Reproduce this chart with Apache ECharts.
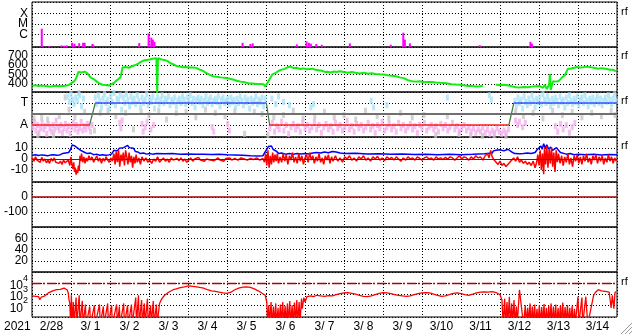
<!DOCTYPE html>
<html><head><meta charset="utf-8">
<script src="https://cdn.jsdelivr.net/npm/echarts@6/dist/echarts.min.js"></script>
<style>html,body{margin:0;padding:0;background:#fff}#c{width:633px;height:334px}</style>
</head><body><div id="c"></div>
<script>
// ---------- DATA (time = days since 2021-02-28 00:00 UT) ----------
const yearLabel = '2021';
const dayLabels = ['2/28','3/ 1','3/ 2','3/ 3','3/ 4','3/ 5','3/ 6','3/ 7','3/ 8','3/ 9','3/10','3/11','3/12','3/13','3/14'];

const xrayClassNames = ['C','M','X'];
const xrayClassFlux = [1e-6, 1e-5, 1e-4];
// [day, peak X-ray flux W/m2]
const xrayFlares = [[0.25,3.7e-6],[0.45,8.5e-8],[0.76,9.6e-8],[0.83,9e-8],[0.89,9.6e-8],[1.03,1.7e-7],[1.09,1.4e-7],[1.21,1.55e-7],[1.31,1.7e-7],[1.35,1.7e-7],[1.55,1.3e-7],[1.57,1.1e-7],[2.75,1.6e-7],[2.99,1.35e-6],[3.06,5.2e-7],[3.10,3.4e-7],[3.14,2.1e-7],[5.40,1.7e-7],[5.60,1.3e-7],[5.66,1.5e-7],[6.79,1.2e-7],[7.04,2.3e-7],[7.10,1.7e-7],[7.15,1.4e-7],[7.29,1.3e-7],[7.43,1.1e-7],[8.15,1.5e-7],[9.20,1.1e-7],[9.52,1.55e-6],[9.56,3.4e-7],[9.69,1.5e-7],[11.48,1e-7],[12.78,2.1e-7],[12.82,1.4e-7]];

const speedTicks = [400,500,600,700];
// [day, km/s]
const windSpeed = [[0.01,382],[0.09,386],[0.17,378],[0.24,384],[0.32,380],[0.40,376],[0.47,372],[0.55,378],[0.63,381],[0.71,376],[0.78,379],[0.86,382],[0.94,388],[1.01,410],[1.09,430],[1.14,470],[1.19,528],[1.27,522],[1.35,531],[1.42,512],[1.50,470],[1.58,452],[1.66,425],[1.73,405],[1.81,392],[1.89,388],[1.96,384],[2.04,398],[2.12,418],[2.19,445],[2.27,470],[2.32,574],[2.40,580],[2.48,572],[2.55,585],[2.63,598],[2.71,612],[2.78,632],[2.86,648],[2.94,655],[3.02,660],[3.09,668],[3.14,680],[3.19,672],[3.21,300],[3.23,672],[3.25,665],[3.32,660],[3.40,655],[3.48,642],[3.55,620],[3.63,608],[3.71,590],[3.79,584],[3.86,578],[3.94,580],[4.04,575],[4.14,574],[4.22,568],[4.30,552],[4.38,540],[4.45,520],[4.55,500],[4.63,482],[4.73,476],[4.84,470],[4.94,466],[5.04,458],[5.15,448],[5.25,435],[5.35,425],[5.45,418],[5.56,405],[5.66,404],[5.76,400],[5.86,401],[5.94,398],[5.97,375],[6.02,398],[6.09,450],[6.17,505],[6.25,518],[6.33,540],[6.40,552],[6.48,560],[6.56,578],[6.63,585],[6.71,568],[6.79,572],[6.86,560],[6.97,565],[7.04,555],[7.12,560],[7.20,562],[7.27,550],[7.35,545],[7.43,540],[7.51,528],[7.58,530],[7.66,522],[7.74,532],[7.81,528],[7.89,535],[8.00,527],[8.10,520],[8.20,526],[8.30,518],[8.40,512],[8.51,520],[8.61,508],[8.71,514],[8.81,506],[8.92,502],[9.02,500],[9.12,492],[9.22,486],[9.33,482],[9.43,470],[9.53,462],[9.64,440],[9.74,430],[9.84,425],[9.94,428],[10.05,418],[10.15,422],[10.25,420],[10.35,415],[10.46,412],[10.56,410],[10.66,405],[10.76,398],[10.87,394],[10.97,392],[11.07,386],[11.18,378],[11.28,380],[11.38,374],[11.48,376],[11.56,382],[11.70,null],[11.89,392],[11.99,388],[12.10,392],[12.20,386],[12.30,375],[12.41,366],[12.51,364],[12.61,368],[12.72,365],[12.82,372],[12.92,375],[13.02,378],[13.10,360],[13.15,390],[13.20,345],[13.26,395],[13.28,506],[13.30,336],[13.36,430],[13.43,425],[13.51,432],[13.59,470],[13.66,490],[13.74,560],[13.82,565],[13.90,572],[13.97,580],[14.05,575],[14.13,578],[14.20,584],[14.28,580],[14.36,576],[14.43,570],[14.51,562],[14.59,568],[14.66,565],[14.74,558],[14.82,550],[14.89,552],[14.97,535]];

const sectorNames = ['A','T'];
const sectorLevels = [-1, 1];
const sectorAway = [[0,-1],[1.476,-1],[6.0,null],[6.094,-1],[12.227,-1]];
const sectorToward = [[1.622,1],[6.01,1],[6.05,null],[12.355,1],[15,1]];
const sectorChange = [[1.476,-1],[1.622,1],[3,null],[6.01,1],[6.094,-1],[9,null],[12.227,-1],[12.355,1]];

const phiToward = [[0.92,1.6],[0.96,1.1],[1.0,1.8],[1.04,1.3],[1.08,0.9],[1.12,1.5],[1.17,1.2],[1.22,1.7],[1.27,0.7],[1.32,1.4],[1.62,1.5],[1.66,0.9],[1.70,1.7],[1.74,1.2],[1.78,0.6],[1.82,1.4],[1.86,1.8],[1.90,1.0],[1.94,1.3],[1.98,0.5],[2.02,1.6],[2.06,1.1],[2.10,1.9],[2.14,0.8],[2.18,1.4],[2.22,1.2],[2.26,1.7],[2.30,0.4],[2.34,1.5],[2.38,1.0],[2.42,1.8],[2.46,1.3],[2.50,0.7],[2.54,1.6],[2.58,1.1],[2.62,1.4],[2.66,0.9],[2.70,1.7],[2.74,1.2],[2.78,0.6],[2.82,1.5],[2.86,1.0],[2.90,1.3],[2.94,1.8],[2.98,0.8],[3.02,1.4],[3.06,1.1],[3.10,1.6],[3.14,0.5],[3.18,1.2],[3.22,1.5],[3.26,0.9],[3.30,1.3],[3.34,1.7],[3.38,1.0],[3.42,1.4],[3.46,1.2],[3.50,1.6],[3.54,0.8],[3.58,1.3],[3.62,1.1],[3.66,1.5],[3.70,0.7],[3.74,1.2],[3.78,1.4],[3.82,1.0],[3.86,1.6],[3.90,1.3],[3.94,0.9],[3.98,1.5],[4.02,1.2],[4.06,1.7],[4.10,1.0],[4.14,1.4],[4.18,0.6],[4.22,1.3],[4.26,1.5],[4.30,1.1],[4.34,1.4],[4.38,0.8],[4.42,1.2],[4.46,1.6],[4.50,1.0],[4.54,1.3],[4.58,1.5],[4.62,0.9],[4.66,1.2],[4.70,1.4],[4.74,1.1],[4.78,1.6],[4.82,0.7],[4.86,1.3],[4.90,1.5],[4.94,1.0],[4.98,1.2],[5.02,1.4],[5.06,0.9],[5.10,1.5],[5.14,1.1],[5.18,1.3],[5.22,0.6],[5.26,1.4],[5.30,1.0],[5.34,1.6],[5.38,1.2],[5.42,0.8],[5.46,1.5],[5.50,1.1],[5.54,1.3],[5.58,0.5],[5.62,1.4],[5.66,1.0],[5.70,1.2],[5.74,1.6],[5.78,0.9],[5.82,1.3],[5.86,1.1],[5.90,1.5],[5.94,0.7],[5.98,1.4],[6.15,1.4],[6.25,0.9],[6.32,1.6],[6.45,1.1],[6.60,0.8],[7.15,0.6],[7.22,0.9],[8.70,1.2],[8.76,0.6],[9.10,0.8],[10.65,1.5],[11.73,1.7],[11.78,1.3],[12.38,1.2],[12.42,0.7],[12.46,1.5],[12.50,1.0],[12.54,1.3],[12.58,0.5],[12.62,1.6],[12.66,1.1],[12.70,0.8],[12.74,1.4],[12.78,1.0],[12.82,1.7],[12.86,1.2],[12.90,0.6],[12.94,1.4],[12.98,1.1],[13.02,1.5],[13.06,0.9],[13.10,1.8],[13.14,1.3],[13.18,1.0],[13.22,1.6],[13.26,1.2],[13.30,0.7],[13.34,1.4],[13.38,1.0],[13.42,1.5],[13.46,1.2],[13.50,0.8],[13.54,1.6],[13.58,1.1],[13.62,1.3],[13.66,0.6],[13.70,1.5],[13.74,1.0],[13.78,1.7],[13.82,1.2],[13.86,0.9],[13.90,1.4],[13.94,1.1],[13.98,1.6],[14.02,0.8],[14.06,1.3],[14.10,1.5],[14.14,1.0],[14.18,1.7],[14.22,1.2],[14.26,0.7],[14.30,1.4],[14.34,1.1],[14.38,1.5],[14.42,0.9],[14.46,1.3],[14.50,1.6],[14.54,1.0],[14.58,1.4],[14.62,0.8],[14.66,1.2],[14.70,1.5],[14.74,1.1],[14.78,1.7],[14.82,1.3],[14.86,0.9],[14.90,1.4],[14.94,1.8],[14.98,1.2]];
const phiAway = [[0.02,-1.2],[0.06,-0.7],[0.10,-1.5],[0.14,-1.0],[0.18,-1.7],[0.22,-1.3],[0.26,-0.8],[0.30,-1.4],[0.34,-1.1],[0.38,-1.8],[0.42,-0.9],[0.46,-1.3],[0.50,-1.6],[0.54,-1.0],[0.58,-1.4],[0.62,-0.6],[0.66,-1.2],[0.70,-1.5],[0.74,-1.0],[0.78,-1.7],[0.82,-1.3],[0.86,-0.9],[0.90,-1.5],[0.94,-1.1],[0.98,-1.8],[1.02,-1.2],[1.06,-0.8],[1.10,-1.4],[1.14,-1.0],[1.18,-1.6],[1.22,-1.3],[1.26,-0.7],[1.30,-1.5],[1.34,-1.1],[1.38,-1.4],[1.42,-0.9],[1.46,-1.2],[1.50,-1.6],[1.54,-1.0],[2.25,-0.8],[2.28,-1.3],[2.31,-0.6],[2.82,-0.9],[2.85,-1.6],[2.90,-1.2],[2.95,-0.7],[3.05,-1.4],[3.12,-1.0],[4.62,-1.2],[4.66,-1.6],[5.02,-0.9],[5.06,-1.5],[6.10,-1.3],[6.16,-0.8],[6.22,-1.6],[6.28,-1.1],[6.34,-1.4],[6.40,-0.7],[6.46,-1.5],[6.52,-1.0],[6.58,-1.8],[6.64,-1.2],[6.70,-0.9],[6.76,-1.4],[6.82,-1.1],[6.88,-1.6],[6.94,-0.8],[7.00,-1.3],[7.06,-1.0],[7.12,-1.5],[7.18,-1.2],[7.24,-0.7],[7.30,-1.4],[7.36,-1.0],[7.42,-1.7],[7.48,-1.2],[7.54,-0.9],[7.60,-1.4],[7.66,-1.1],[7.72,-1.6],[7.78,-0.8],[7.84,-1.3],[7.90,-1.0],[7.96,-1.5],[8.02,-1.2],[8.08,-0.6],[8.14,-1.4],[8.20,-1.1],[8.26,-1.6],[8.32,-0.9],[8.38,-1.3],[8.44,-1.0],[8.50,-1.5],[8.56,-1.2],[8.62,-0.8],[8.68,-1.4],[8.74,-1.1],[8.80,-1.7],[8.86,-1.0],[8.92,-1.3],[8.98,-0.7],[9.04,-1.5],[9.10,-1.2],[9.16,-0.9],[9.22,-1.4],[9.28,-1.1],[9.34,-1.6],[9.40,-0.8],[9.46,-1.3],[9.52,-1.0],[9.58,-1.5],[9.64,-1.2],[9.70,-0.9],[9.76,-1.4],[9.82,-1.1],[9.88,-1.7],[9.94,-1.0],[10.00,-1.3],[10.06,-0.8],[10.12,-1.5],[10.18,-1.2],[10.24,-1.0],[10.30,-1.4],[10.36,-1.1],[10.42,-1.6],[10.48,-0.9],[10.54,-1.3],[10.60,-1.0],[10.66,-1.5],[10.72,-1.2],[10.78,-0.8],[10.84,-1.4],[10.90,-1.1],[10.96,-1.6],[11.02,-1.3],[11.08,-1.0],[11.14,-1.5],[11.20,-1.2],[11.26,-1.6],[11.32,-1.3],[11.38,-1.7],[11.44,-1.4],[11.50,-1.6],[11.56,-1.2],[11.62,-1.7],[11.68,-1.4],[11.74,-1.8],[11.80,-1.5],[11.86,-1.7],[11.92,-1.3],[11.98,-1.6],[12.04,-1.8],[12.10,-1.5],[12.16,-1.7],[12.22,-1.4],[12.40,-0.6],[12.45,-1.0],[12.50,-0.7],[12.58,-1.2],[12.65,-0.8],[13.42,-1.1],[13.48,-1.6],[13.55,-0.9],[13.62,-1.4],[13.70,-1.0],[13.78,-1.7],[13.85,-1.2],[13.92,-0.8]];
const phiOther = [[0.05,-0.4],[0.15,-1.9],[0.25,-0.3],[0.40,-0.5],[0.55,-1.9],[0.70,-0.2],[0.85,1.5],[0.95,0.4],[1.10,-0.3],[1.20,1.9],[1.35,0.2],[1.60,-1.5],[1.75,0.1],[1.95,0.3],[2.15,-0.2],[2.40,0.1],[2.60,-1.4],[2.80,0.2],[3.00,-0.1],[3.25,0.3],[3.45,-0.5],[3.70,0.1],[3.95,0.2],[4.20,-0.3],[4.45,0.4],[4.70,0.1],[4.95,-0.2],[5.20,0.3],[5.45,-1.8],[5.70,0.2],[5.90,0.0],[6.05,-1.9],[6.20,-0.3],[6.45,-0.1],[6.70,0.3],[6.95,-0.4],[7.25,-0.2],[7.50,0.2],[7.75,-0.3],[8.00,-0.1],[8.30,-0.5],[8.55,0.3],[8.85,-0.2],[9.15,-0.4],[9.45,0.1],[9.75,-0.3],[10.05,-0.1],[10.35,-1.9],[10.65,-0.2],[10.95,-1.8],[11.25,-1.9],[11.55,-2.0],[11.85,-1.9],[12.15,-2.0],[12.40,0.2],[12.60,-0.2],[12.85,0.1],[13.10,-0.4],[13.35,0.3],[13.60,-0.1],[13.85,0.2],[14.10,-0.3],[14.35,0.1],[14.60,-0.2],[14.85,0.3],[14.95,-0.1]];

const bTicks = [-10, 0, 10];
// [day, nT]
const btTotal = [[0.01,3.5],[0.09,4],[0.17,3.2],[0.24,3.8],[0.32,3.5],[0.40,3],[0.47,3.6],[0.55,4],[0.63,3.4],[0.71,3.8],[0.78,5],[0.86,5.5],[0.94,6],[0.99,9],[1.03,13],[1.07,14.5],[1.10,12],[1.14,13.5],[1.17,10],[1.21,11],[1.25,8],[1.29,9],[1.33,6.5],[1.37,7],[1.42,5],[1.50,5.5],[1.58,4],[1.66,4.5],[1.73,3.5],[1.81,4],[1.89,3.5],[1.96,3.8],[2.04,4.5],[2.10,8],[2.14,9.5],[2.19,7.5],[2.24,10],[2.29,8.5],[2.35,10.5],[2.40,11],[2.45,12.5],[2.50,10.5],[2.55,9],[2.60,10],[2.65,7],[2.71,6.5],[2.78,5],[2.86,5.5],[2.94,4.5],[3.02,5],[3.09,4.5],[3.2,5],[3.4,4.8],[3.6,5],[3.8,4.5],[4.0,4.7],[4.2,4.3],[4.4,4.5],[4.6,4.2],[4.8,4.4],[5.0,4],[5.2,3.8],[5.4,3.5],[5.6,3],[5.8,2.8],[5.92,3],[5.97,6],[6.02,9],[6.06,11.5],[6.10,10],[6.14,12],[6.18,9],[6.22,8],[6.27,7],[6.33,5],[6.40,5.5],[6.5,4.5],[6.6,5],[6.7,4.5],[6.8,5],[6.9,4.6],[7.0,5],[7.1,4.7],[7.2,5.5],[7.3,6],[7.4,5.5],[7.5,6.5],[7.6,5.8],[7.7,7],[7.8,6.5],[7.9,5.5],[8.0,5],[8.3,5.2],[8.6,4.6],[8.9,4.9],[9.2,4.4],[9.5,4.7],[9.8,4.2],[10.1,4.4],[10.4,4],[10.7,4.3],[11.0,3.9],[11.3,4.3],[11.6,4.8],[11.8,5.5],[11.83,7.5],[11.9,8],[12.0,8.5],[12.1,7.5],[12.2,9],[12.3,6.5],[12.38,5],[12.5,4.8],[12.6,5],[12.7,5.5],[12.8,5],[12.9,6],[12.95,8.5],[13.0,10],[13.05,12],[13.08,9],[13.12,14],[13.16,10],[13.2,13],[13.25,9],[13.3,11],[13.35,8],[13.4,9],[13.45,10.5],[13.5,8],[13.55,6],[13.6,5],[13.7,4.5],[13.8,5],[13.9,4],[14.0,4.5],[14.2,4],[14.4,4.5],[14.6,3.8],[14.8,4.2],[15.0,4]];
const bzComp = [[0.01,1],[0.05,-2],[0.09,2],[0.13,-1],[0.17,0.5],[0.21,-3],[0.25,1.5],[0.29,-2],[0.33,0],[0.37,-3.5],[0.41,-1],[0.45,-4],[0.49,0.5],[0.53,-2],[0.57,1],[0.61,-3],[0.65,-1.5],[0.69,-4],[0.73,-2],[0.77,-5],[0.81,-1],[0.85,-3.5],[0.89,-4],[0.93,-1],[0.97,-6],[1.0,2],[1.02,-4],[1.05,-9],[1.07,-3],[1.09,-12],[1.11,-8],[1.13,-14.5],[1.15,-10],[1.17,-13],[1.19,-6],[1.21,-11],[1.23,3],[1.25,-2],[1.27,5],[1.30,-3],[1.33,2],[1.36,-4],[1.39,1],[1.42,-2],[1.46,3],[1.5,-1],[1.54,2],[1.58,-3],[1.62,0],[1.66,3],[1.70,-2],[1.74,1],[1.78,-4],[1.82,0.5],[1.86,-2],[1.90,2],[1.94,-1],[1.98,-3],[2.02,1],[2.06,-2],[2.10,5],[2.13,-5],[2.16,7],[2.19,-3],[2.22,8],[2.25,-7],[2.28,4],[2.31,-2],[2.34,6],[2.37,-6],[2.40,8],[2.43,2],[2.46,-5],[2.49,6],[2.52,-3],[2.55,3],[2.58,-8],[2.61,2],[2.64,-4],[2.67,4],[2.70,-3],[2.74,1],[2.78,-5],[2.82,2],[2.87,-2],[2.92,1],[2.97,-3],[3.02,-1],[3.07,-4],[3.12,0],[3.17,-2],[3.22,2],[3.27,-3],[3.32,-1],[3.37,1],[3.42,-2],[3.47,0],[3.52,-3],[3.57,1],[3.62,-1],[3.67,-2.5],[3.72,0.5],[3.77,-1.5],[3.82,1],[3.87,-2],[3.92,0],[3.97,-3],[4.02,-1],[4.07,1],[4.12,-2],[4.17,0],[4.22,-1.5],[4.27,1.5],[4.32,-1],[4.37,0.5],[4.42,-2],[4.47,0],[4.52,1],[4.57,-1],[4.62,0.5],[4.67,-1.5],[4.72,0],[4.77,1],[4.82,-1],[4.87,0],[4.92,-2],[4.97,0.5],[5.02,-1],[5.07,1],[5.12,-1],[5.2,0.5],[5.28,-1],[5.36,1],[5.44,0],[5.52,-1],[5.60,0.5],[5.68,-0.5],[5.76,1],[5.84,-1],[5.92,0.5],[5.96,-3],[5.99,5],[6.02,-6],[6.05,8],[6.08,-8],[6.11,3],[6.14,-5],[6.17,6],[6.20,-3],[6.23,4],[6.26,-2],[6.29,5],[6.32,-4],[6.36,2],[6.40,-3],[6.44,5],[6.48,-2],[6.52,4],[6.56,-5],[6.60,3],[6.64,-1],[6.68,6],[6.72,-3],[6.76,2],[6.80,-4],[6.84,5],[6.88,-2],[6.92,3],[6.96,-5],[7.00,1],[7.04,4],[7.08,-3],[7.12,6],[7.16,-1],[7.20,3],[7.24,-4],[7.28,2],[7.32,-2],[7.36,5],[7.40,-3],[7.44,1],[7.48,-5],[7.52,3],[7.56,-1],[7.60,4],[7.64,-4],[7.68,2],[7.72,-2],[7.78,3],[7.84,-2],[7.90,1],[7.96,-3],[8.02,2],[8.08,0],[8.14,3],[8.20,-1],[8.26,1],[8.32,-2],[8.38,2],[8.44,0],[8.50,3],[8.56,-1],[8.62,1],[8.68,-2],[8.74,2],[8.80,0],[8.86,2.5],[8.92,-1],[8.98,1],[9.04,-1.5],[9.10,2],[9.16,0],[9.22,1.5],[9.28,-1],[9.34,2],[9.40,0],[9.46,-2],[9.52,1],[9.58,-1],[9.64,2],[9.70,0],[9.76,1],[9.82,-1],[9.88,2],[9.94,0.5],[10.00,-1],[10.06,1],[10.12,2],[10.18,0],[10.24,1],[10.30,-1],[10.36,2],[10.42,0],[10.48,1],[10.54,-0.5],[10.60,1.5],[10.66,0],[10.72,2],[10.78,1],[10.84,-1],[10.90,1],[10.96,3],[11.02,0],[11.08,2],[11.14,1],[11.20,-1],[11.26,2],[11.32,0],[11.38,3],[11.44,1],[11.50,2],[11.56,-1],[11.62,3],[11.68,5],[11.72,1],[11.76,8],[11.80,2],[11.85,-1],[11.90,-3],[11.95,-5],[12.00,-2],[12.05,-6],[12.10,-4],[12.15,-7],[12.20,-5],[12.25,-3],[12.30,-4],[12.35,1],[12.40,-2],[12.45,2],[12.50,-3],[12.55,-1],[12.60,-4],[12.65,-2],[12.70,-5],[12.75,-3],[12.80,-6],[12.85,-2],[12.90,-8],[12.94,-3],[12.97,4],[13.00,-6],[13.03,8],[13.06,-10],[13.09,5],[13.12,-14],[13.14,10],[13.17,-5],[13.20,12],[13.23,-8],[13.26,9],[13.29,-4],[13.32,11],[13.35,-7],[13.38,6],[13.41,-12],[13.44,8],[13.47,-3],[13.50,5],[13.54,-4],[13.58,3],[13.62,-6],[13.66,2],[13.70,-3],[13.74,5],[13.78,-5],[13.82,1],[13.86,-7],[13.90,3],[13.94,-2],[13.98,4],[14.02,-4],[14.06,2],[14.10,-5],[14.14,3],[14.18,-2],[14.22,5],[14.26,-3],[14.30,1],[14.34,-5],[14.38,3],[14.42,-1],[14.46,4],[14.50,-4],[14.54,2],[14.58,-2],[14.62,3],[14.66,-5],[14.70,1],[14.74,-3],[14.78,4],[14.82,-2],[14.86,2],[14.90,-4],[14.94,1],[14.98,-2]];

const dstTicks = [-100, 0];
const kpTicks = [20, 40, 60];

const fluxExponents = [2, 3, 4];
const fluxAlert = 1e4;
// [day, electron flux]  (values under 10 fall below the panel)
const electronFlux = [[0.01,700],[0.05,560],[0.09,650],[0.13,500],[0.17,600],[0.20,320],[0.24,560],[0.28,620],[0.32,680],[0.37,900],[0.42,1300],[0.47,1600],[0.53,2000],[0.58,2300],[0.63,2500],[0.68,2400],[0.73,2700],[0.78,3000],[0.82,3500],[0.86,3300],[0.90,2500],[0.93,1300],[0.95,300],[0.97,150],[0.99,2],[1.01,800],[1.03,2],[1.06,200],[1.08,2],[1.13,500],[1.15,2],[1.21,800],[1.23,2],[1.29,250],[1.31,2],[1.37,120],[1.39,2],[1.48,80],[1.50,2],[1.60,100],[1.62,2],[1.73,120],[1.75,2],[1.83,80],[1.85,2],[1.94,150],[1.96,2],[2.04,100],[2.06,2],[2.17,120],[2.19,2],[2.24,80],[2.26,2],[2.35,150],[2.37,2],[2.45,100],[2.47,2],[2.55,120],[2.57,2],[2.66,500],[2.68,2],[2.73,800],[2.75,2],[2.81,300],[2.83,2],[2.88,150],[2.90,2],[2.96,400],[2.98,2],[3.04,100],[3.06,2],[3.11,250],[3.13,2],[3.19,120],[3.21,2],[3.27,150],[3.33,400],[3.40,800],[3.45,1000],[3.50,1500],[3.55,2000],[3.62,2500],[3.70,3000],[3.80,3800],[3.91,4500],[4.02,5500],[4.12,5000],[4.22,4500],[4.30,4000],[4.40,3500],[4.50,2500],[4.60,2000],[4.70,1800],[4.80,1500],[4.90,1300],[5.00,1200],[5.10,1500],[5.20,2500],[5.30,3500],[5.40,4200],[5.50,4500],[5.60,4000],[5.70,3000],[5.80,2000],[5.90,1200],[5.98,800],[6.02,200],[6.04,2],[6.07,100],[6.09,2],[6.13,200],[6.15,2],[6.19,80],[6.21,2],[6.25,150],[6.27,2],[6.31,60],[6.33,2],[6.37,120],[6.39,2],[6.43,200],[6.45,2],[6.49,90],[6.51,2],[6.55,150],[6.57,2],[6.61,250],[6.63,2],[6.67,100],[6.69,2],[6.73,180],[6.75,2],[6.79,300],[6.81,2],[6.85,200],[6.87,2],[6.91,400],[6.93,50],[6.97,500],[7.00,200],[7.05,600],[7.10,400],[7.15,700],[7.22,600],[7.30,800],[7.40,700],[7.50,650],[7.60,750],[7.70,700],[7.80,900],[7.90,1100],[8.00,1300],[8.10,1400],[8.20,1200],[8.30,1000],[8.40,800],[8.50,650],[8.60,600],[8.70,700],[8.80,900],[8.90,1200],[9.00,1400],[9.10,1300],[9.20,1100],[9.30,900],[9.40,800],[9.50,700],[9.60,650],[9.70,700],[9.80,900],[9.90,1100],[10.00,1300],[10.10,1400],[10.20,1300],[10.30,1000],[10.40,800],[10.50,650],[10.60,700],[10.70,900],[10.80,1200],[10.90,1300],[11.00,1100],[11.10,900],[11.20,800],[11.30,1000],[11.40,1300],[11.50,1500],[11.60,1600],[11.70,1500],[11.80,1700],[11.90,1400],[12.00,900],[12.05,300],[12.08,2],[12.12,400],[12.14,2],[12.18,200],[12.20,2],[12.24,600],[12.26,2],[12.30,150],[12.32,2],[12.36,300],[12.38,2],[12.42,80],[12.44,2],[12.50,2500],[12.55,2000],[12.60,2],[12.65,100],[12.67,2],[12.71,60],[12.73,2],[12.77,150],[12.79,2],[12.83,80],[12.85,2],[12.89,120],[12.91,2],[12.95,50],[12.97,2],[13.01,100],[13.03,2],[13.07,70],[13.09,2],[13.13,130],[13.15,2],[13.19,60],[13.21,2],[13.25,90],[13.27,2],[13.31,150],[13.33,2],[13.37,80],[13.39,2],[13.43,120],[13.45,2],[13.49,60],[13.51,2],[13.55,100],[13.57,2],[13.61,180],[13.63,2],[13.67,70],[13.69,2],[13.73,110],[13.75,2],[13.79,60],[13.81,2],[13.85,90],[13.87,2],[13.91,50],[13.93,2],[14.00,600],[14.02,2],[14.10,500],[14.12,2],[14.20,600],[14.25,2],[14.40,800],[14.45,1500],[14.52,2500],[14.60,2000],[14.65,2400],[14.70,1800],[14.75,2200],[14.80,1500],[14.85,60],[14.88,800],[14.92,50],[14.95,1500],[14.98,1600]];

// ---------- CHART ----------
const FONT = '"Liberation Sans", Arial, Helvetica, sans-serif';
const XR_OFF = 7.17;
const chart = echarts.init(document.getElementById('c'), null, {renderer: 'canvas'});

const grids = [], xAxes = [], yAxes = [];
const dotted = {show: true, lineStyle: {color: '#000', width: 1, type: [1, 2]}};
for (let i = 0; i < 7; i++) {
  grids.push({left: 32, right: 16, top: 2 + 45 * i, height: 45, show: true, borderColor: '#000', borderWidth: 1, backgroundColor: 'transparent'});
  xAxes.push({type: 'value', gridIndex: i, min: 0, max: 15, interval: 1, position: 'top',
    axisLine: {show: false}, axisTick: {show: false}, axisLabel: {show: false}, splitLine: dotted});
}
xAxes.push({type: 'value', gridIndex: 6, min: 0, max: 15, interval: 0.5, position: 'bottom',
  axisLine: {show: false}, axisTick: {show: false}, splitLine: {show: false},
  axisLabel: {show: true, color: '#000', fontSize: 12, fontFamily: FONT, margin: 4, hideOverlap: false,
    formatter: v => { const k = Math.floor(v + 1e-6); return Math.abs(v - k - 0.5) < 1e-6 ? (dayLabels[k] || '') : ''; }}});

// the axis extents are added as blank first/last labels so that every real label stays visible
function yAx(i, min, max, ticks, fmt, labelExtra) {
  const vals = [min].concat(ticks, [max]);
  return {type: 'value', gridIndex: i, min: min, max: max,
    axisLine: {show: false}, axisTick: {show: false, customValues: vals},
    axisLabel: Object.assign({show: true, customValues: vals,
      formatter: v => (v === min || v === max) ? '' : fmt(v),
      color: '#000', fontSize: 12, fontFamily: FONT, margin: 4,
      hideOverlap: false, showMinLabel: false, showMaxLabel: false}, labelExtra || {}),
    splitLine: dotted};
}
const xrayTicks = xrayClassFlux.map(f => Math.log10(f) + XR_OFF);
yAxes.push(yAx(0, 0, 4.28, xrayTicks, v => xrayClassNames[Math.round(v - xrayTicks[0])] || ''));
yAxes.push(yAx(1, 315, 792, speedTicks, v => String(v)));
yAxes.push(yAx(2, -2.09, 2.0, sectorLevels, v => sectorNames[v > 0 ? 1 : 0]));
yAxes.push(yAx(3, -21.2, 20.3, bTicks, v => String(v)));
yAxes.push(yAx(4, -200, 100, dstTicks, v => String(v)));
yAxes.push(yAx(5, 0, 80, kpTicks, v => String(v)));
yAxes.push(yAx(6, 0.964, 4.98, fluxExponents, v => '{b|10}{s|' + Math.round(v) + '}', {
  rich: {b: {fontSize: 12, fontFamily: FONT, color: '#000', lineHeight: 18, verticalAlign: 'bottom'},
         s: {fontSize: 9, fontFamily: FONT, color: '#000', lineHeight: 10, verticalAlign: 'top'}}}));

const ml = (y, color, type, width) => ({symbol: 'none', silent: true, animation: false, label: {show: false},
  lineStyle: {color: color, type: type, width: width}, data: [{yAxis: y}]});

const series = [
  {type: 'bar', xAxisIndex: 0, yAxisIndex: 0, barWidth: 2, itemStyle: {color: '#ff00ff'},
    data: xrayFlares.map(p => [p[0], Math.log10(p[1]) + XR_OFF])},
  {type: 'line', xAxisIndex: 1, yAxisIndex: 1, showSymbol: false, connectNulls: false,
    lineStyle: {color: '#11ee11', width: 2}, data: windSpeed},
  {type: 'scatter', xAxisIndex: 2, yAxisIndex: 2, symbol: 'rect', symbolSize: [3, 6], itemStyle: {color: '#c8c8c8'}, data: phiOther},
  {type: 'scatter', xAxisIndex: 2, yAxisIndex: 2, symbol: 'rect', symbolSize: [3, 6], itemStyle: {color: '#a8e2f8'}, data: phiToward},
  {type: 'scatter', xAxisIndex: 2, yAxisIndex: 2, symbol: 'rect', symbolSize: [3, 6], itemStyle: {color: '#f4aeee'}, data: phiAway,
    markLine: ml(0, '#707070', 'solid', 2)},
  {type: 'line', xAxisIndex: 2, yAxisIndex: 2, showSymbol: false, lineStyle: {color: '#ff2020', width: 1.5}, data: sectorAway},
  {type: 'line', xAxisIndex: 2, yAxisIndex: 2, showSymbol: false, lineStyle: {color: '#3a50ff', width: 1.5}, data: sectorToward},
  {type: 'line', xAxisIndex: 2, yAxisIndex: 2, showSymbol: false, lineStyle: {color: '#3c7a3c', width: 1.2}, data: sectorChange},
  {type: 'line', xAxisIndex: 3, yAxisIndex: 3, showSymbol: false, lineStyle: {color: '#0000ff', width: 1.5}, data: btTotal},
  {type: 'line', xAxisIndex: 3, yAxisIndex: 3, showSymbol: false, lineStyle: {color: '#ff0000', width: 1.5}, data: bzComp,
    markLine: ml(0, '#a00000', 'solid', 1)},
  {type: 'line', xAxisIndex: 4, yAxisIndex: 4, showSymbol: false, data: [], markLine: ml(0, '#a00000', 'solid', 1.5)},
  {type: 'line', xAxisIndex: 6, yAxisIndex: 6, showSymbol: false, lineStyle: {color: '#ff0000', width: 1.3},
    data: electronFlux.map(p => [p[0], Math.log10(p[1])]),
    markLine: ml(Math.log10(fluxAlert), '#b00000', [9, 2, 2, 2], 1.3)}
];

const rfMarks = [12, 56, 101, 146, 282];
const graphic = [
  {type: 'text', left: 4, top: 321, style: {text: yearLabel, fill: '#000', font: '12px ' + FONT}}
].concat(rfMarks.map(y => ({type: 'text', left: 621, top: y - 6, style: {text: 'rf', fill: '#000', font: '11px ' + FONT}})))
 .concat([
  {type: 'line', shape: {x1: 632, y1: 323, x2: 621, y2: 334}, style: {stroke: '#999', lineWidth: 1}},
  {type: 'line', shape: {x1: 632, y1: 327, x2: 625, y2: 334}, style: {stroke: '#999', lineWidth: 1}},
  {type: 'line', shape: {x1: 632, y1: 331, x2: 629, y2: 334}, style: {stroke: '#999', lineWidth: 1}}
 ]);

chart.setOption({animation: false, backgroundColor: '#fff', grid: grids, xAxis: xAxes, yAxis: yAxes, series: series, graphic: graphic});
</script></body></html>
